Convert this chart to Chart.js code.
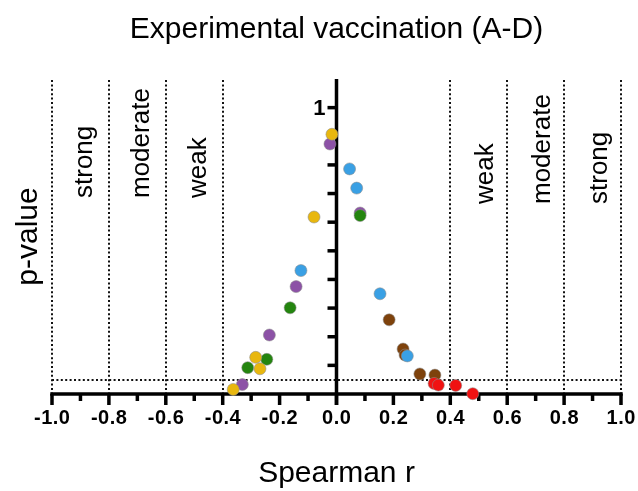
<!DOCTYPE html>
<html>
<head>
<meta charset="utf-8">
<script src="https://cdn.jsdelivr.net/npm/chart.js@4.4.1/dist/chart.umd.min.js"></script>
<style>
  html, body { margin: 0; padding: 0; background: #fff; }
  canvas { display: block; }
</style>
</head>
<body>
<canvas id="chart" width="638" height="491" style="width:638px;height:491px"></canvas>
<script>
// Spearman r (x) against p-value (y), one list pair per group
const rYellow = [-0.016, -0.079, -0.284, -0.269, -0.363];
const pYellow = [0.907, 0.618, 0.128, 0.088, 0.016];
const rPurple = [-0.023, 0.083, -0.142, -0.236, -0.331];
const pPurple = [0.873, 0.632, 0.375, 0.206, 0.033];
const rBlue = [0.046, 0.071, -0.125, 0.153, 0.249];
const pBlue = [0.786, 0.719, 0.431, 0.350, 0.133];
const rGreen = [0.083, -0.163, -0.245, -0.312];
const pGreen = [0.623, 0.301, 0.121, 0.092];
const rBrown = [0.185, 0.234, 0.241, 0.293, 0.346];
const pBrown = [0.259, 0.157, 0.136, 0.070, 0.066];
const rRed = [0.343, 0.358, 0.419, 0.479];
const pRed = [0.037, 0.031, 0.030, 0.001];

const xTicks = [-1.0, -0.8, -0.6, -0.4, -0.2, 0.0, 0.2, 0.4, 0.6, 0.8, 1.0];
const cutoffs = [-1.0, -0.8, -0.6, -0.4, 0.4, 0.6, 0.8, 1.0];
const bandLabels = ['strong', 'moderate', 'weak', 'weak', 'moderate', 'strong'];
const bandCenters = [-0.9, -0.7, -0.5, 0.5, 0.7, 0.9];
const alpha = 0.05;

function pts(r, p) { return r.map((v, i) => ({ x: v, y: p[i] })); }

function series(r, p, color) {
    return {
        data: pts(r, p),
        backgroundColor: color,
        borderColor: 'rgba(140,140,140,0.55)',
        borderWidth: 1,
        pointRadius: 6,
        pointHoverRadius: 6,
        clip: false
    };
}

const FONT = '"Liberation Sans", Arial, Helvetica, sans-serif';

// axes, cut-off lines and all text are drawn under the points
const frame = {
    id: 'frame',
    beforeDatasetsDraw(chart) {
        const ctx = chart.ctx;
        const xs = chart.scales.x, ys = chart.scales.y;
        const x0 = xs.getPixelForValue(0), y0 = ys.getPixelForValue(0);
        const yTop = ys.getPixelForValue(1.1);
        ctx.save();

        // dotted cut-off lines
        ctx.strokeStyle = '#111';
        ctx.lineWidth = 2;
        ctx.setLineDash([2, 2.4]);
        cutoffs.forEach(c => {
            const px = Math.round(xs.getPixelForValue(c));
            ctx.beginPath();
            ctx.moveTo(px, yTop + 1);
            ctx.lineTo(px, y0);
            ctx.stroke();
        });
        const pa = Math.round(ys.getPixelForValue(alpha));
        ctx.beginPath();
        ctx.moveTo(xs.getPixelForValue(-1), pa);
        ctx.lineTo(xs.getPixelForValue(1), pa);
        ctx.stroke();
        ctx.setLineDash([]);

        // x axis with major / minor ticks
        ctx.strokeStyle = '#000';
        ctx.lineWidth = 3.5;
        ctx.beginPath();
        ctx.moveTo(xs.getPixelForValue(-1) - 1.75, y0);
        ctx.lineTo(xs.getPixelForValue(1) + 1.75, y0);
        ctx.stroke();
        for (let i = -10; i <= 10; i++) {
            const px = xs.getPixelForValue(i / 10);
            const len = i % 2 === 0 ? 11 : 7;
            ctx.beginPath();
            ctx.moveTo(px, y0);
            ctx.lineTo(px, y0 + len);
            ctx.stroke();
        }

        // y axis through r = 0
        ctx.beginPath();
        ctx.moveTo(x0, y0 + 11);
        ctx.lineTo(x0, yTop);
        ctx.stroke();
        for (let i = 1; i <= 10; i++) {
            const py = ys.getPixelForValue(i / 10);
            ctx.beginPath();
            ctx.moveTo(x0 - 9, py);
            ctx.lineTo(x0, py);
            ctx.stroke();
        }

        // tick labels
        ctx.fillStyle = '#000';
        ctx.font = 'bold 20px ' + FONT;
        ctx.letterSpacing = '0.5px';
        ctx.textAlign = 'center';
        ctx.textBaseline = 'alphabetic';
        xTicks.forEach(t => {
            ctx.fillText(t.toFixed(1), xs.getPixelForValue(t) + 0.25, y0 + 30);
        });
        ctx.letterSpacing = '0px';
        ctx.font = 'bold 22px ' + FONT;
        ctx.textAlign = 'right';
        ctx.textBaseline = 'middle';
        ctx.fillText('1', x0 - 11, ys.getPixelForValue(1) + 1);

        // strength bands
        ctx.font = '26px ' + FONT;
        ctx.textAlign = 'left';
        ctx.textBaseline = 'alphabetic';
        bandLabels.forEach((s, i) => {
            const c = bandCenters[i];
            ctx.save();
            ctx.translate(xs.getPixelForValue(c) + (c < 0 ? 12 : 14), c < 0 ? 198 : 204);
            ctx.rotate(-Math.PI / 2);
            ctx.fillText(s, 0, 0);
            ctx.restore();
        });

        // titles
        ctx.font = '30px ' + FONT;
        ctx.textAlign = 'center';
        ctx.fillText('Experimental vaccination (A-D)', (chart.chartArea.left + chart.chartArea.right) / 2, 38);
        ctx.fillText('Spearman r', x0, 482);
        ctx.save();
        ctx.translate(37, (chart.chartArea.top + chart.chartArea.bottom) / 2);
        ctx.rotate(-Math.PI / 2);
        ctx.fillText('p-value', 0, 0);
        ctx.restore();

        ctx.restore();
    }
};

new Chart(document.getElementById('chart'), {
    type: 'scatter',
    data: {
        datasets: [
            series(rRed, pRed, '#F01212'),
            series(rYellow, pYellow, '#E8B70F'),
            series(rBlue, pBlue, '#3AA0E4'),
            series(rGreen, pGreen, '#24850F'),
            series(rPurple, pPurple, '#8C52A6'),
            series(rBrown, pBrown, '#7E420C')
        ]
    },
    options: {
        responsive: false,
        animation: false,
        devicePixelRatio: 1,
        layout: { padding: { left: 52, right: 17, top: 79, bottom: 97 } },
        scales: {
            x: { type: 'linear', min: -1, max: 1, display: false },
            y: { type: 'linear', min: 0, max: 1.1, display: false }
        },
        plugins: {
            legend: { display: false },
            tooltip: { enabled: false },
            title: { display: false }
        }
    },
    plugins: [frame]
});
</script>
</body>
</html>
